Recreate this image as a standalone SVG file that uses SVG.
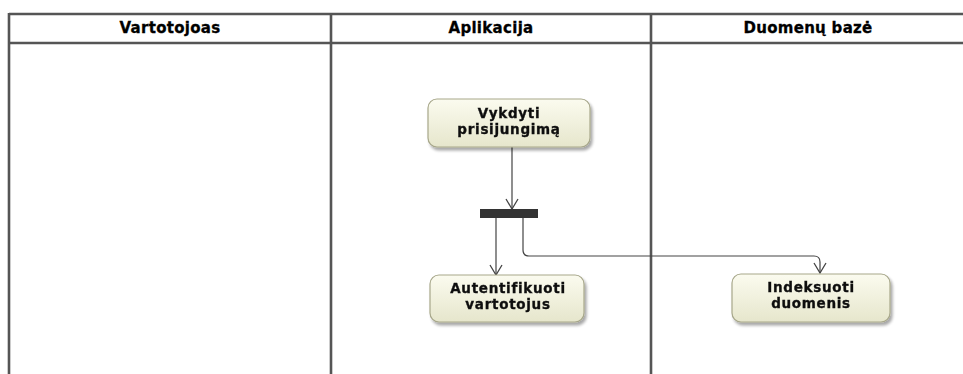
<svg xmlns="http://www.w3.org/2000/svg" width="963" height="374" viewBox="0 0 963 374">
  <defs>
    <linearGradient id="nodeFill" x1="0" y1="0" x2="0" y2="1">
      <stop offset="0" stop-color="#fbfbef"/>
      <stop offset="1" stop-color="#e6e6cc"/>
    </linearGradient>
    <filter id="shadow" x="-10%" y="-20%" width="125%" height="150%">
      <feGaussianBlur in="SourceAlpha" stdDeviation="1.5"/>
      <feOffset dx="2" dy="3" result="b"/>
      <feComponentTransfer><feFuncA type="linear" slope="0.35"/></feComponentTransfer>
      <feMerge><feMergeNode/><feMergeNode in="SourceGraphic"/></feMerge>
    </filter>
    <!-- open V arrowhead, drawn along +x so orient="auto" follows the line -->
    <marker id="open" markerWidth="14" markerHeight="14" refX="12" refY="7" orient="auto" markerUnits="userSpaceOnUse" viewBox="0 0 14 14">
      <path d="M2,1 L12,7 L2,13" fill="none" stroke="#444" stroke-width="1.3"/>
    </marker>
  </defs>
  <style>
    .lane { fill: none; stroke: #555; stroke-width: 2.6; }
    .hdr { font-family: "DejaVu Sans", Verdana, sans-serif; font-weight: bold; font-size: 15px; letter-spacing: 0.3px; fill: #000; stroke: #000; stroke-width: 0.3; text-anchor: middle; }
    .node rect { fill: url(#nodeFill); stroke: #a7a78a; stroke-width: 1.2; }
    .node text { font-family: "DejaVu Sans", Verdana, sans-serif; font-weight: bold; font-size: 13.5px; letter-spacing: 0.7px; fill: #111; stroke: #111; stroke-width: 0.35; text-anchor: middle; }
    .edge { fill: none; stroke: #444; stroke-width: 1.2; }
  </style>
  <rect width="963" height="374" fill="#ffffff"/>

  <!-- swimlanes -->
  <g id="lanes">
    <line class="lane" x1="9" y1="14" x2="963" y2="14"/>
    <line class="lane" x1="9" y1="43" x2="963" y2="43"/>
    <line class="lane" x1="9" y1="13" x2="9" y2="374"/>
    <line class="lane" x1="331" y1="13" x2="331" y2="374"/>
    <line class="lane" x1="651" y1="13" x2="651" y2="374"/>
    <text class="hdr" x="170" y="33">Vartotojoas</text>
    <text class="hdr" x="491" y="33">Aplikacija</text>
    <text class="hdr" x="808" y="33">Duomenų bazė</text>
  </g>

  <!-- connectors -->
  <g id="connectors">
    <line class="edge" x1="512" y1="147" x2="512" y2="209" marker-end="url(#open)"/>
    <line class="edge" x1="496" y1="218" x2="496" y2="275" marker-end="url(#open)"/>
    <path class="edge" d="M523,218 V250 Q523,256 529,256 H814 Q820,256 820,262 V273" marker-end="url(#open)"/>
  </g>

  <g id="fork">
    <rect x="480" y="209" width="58" height="9" fill="#333"/>
  </g>

  <g id="vykdyti" class="node" filter="url(#shadow)">
    <rect x="428" y="99" width="162" height="48" rx="9"/>
    <text x="509" y="118">Vykdyti</text>
    <text x="509" y="134">prisijungimą</text>
  </g>

  <g id="autentifikuoti" class="node" filter="url(#shadow)">
    <rect x="430" y="275" width="154" height="47" rx="9"/>
    <text x="508" y="293">Autentifikuoti</text>
    <text x="508" y="309">vartotojus</text>
  </g>

  <g id="indeksuoti" class="node" filter="url(#shadow)">
    <rect x="732" y="274" width="158" height="48" rx="9"/>
    <text x="811" y="292">Indeksuoti</text>
    <text x="811" y="308">duomenis</text>
  </g>
</svg>
